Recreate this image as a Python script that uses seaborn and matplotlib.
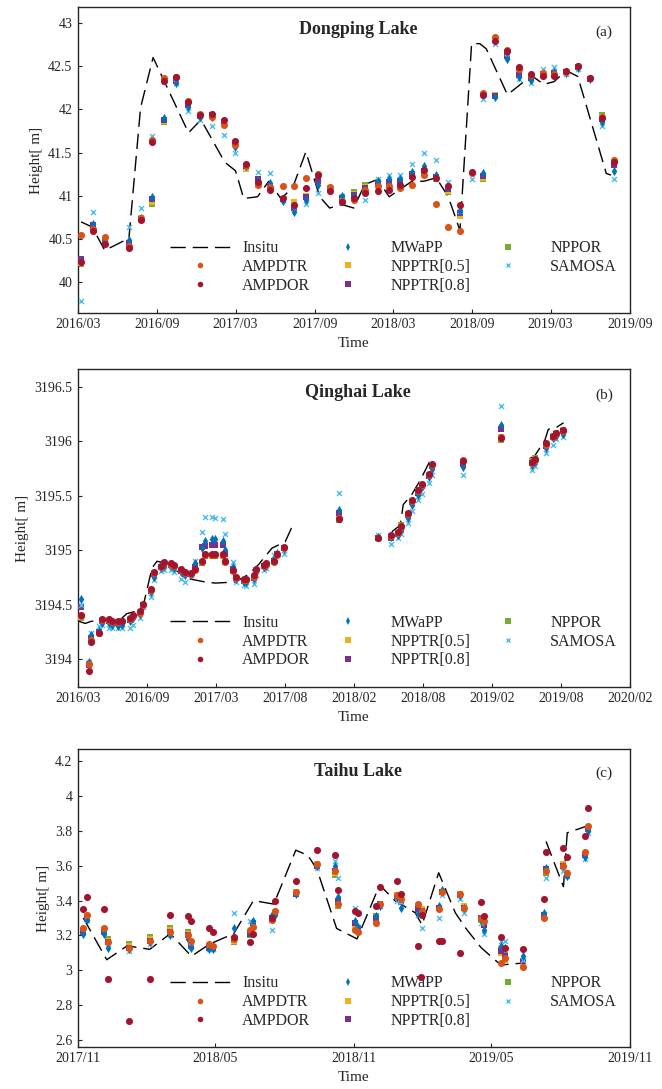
import numpy as np
import pandas as pd
import matplotlib
matplotlib.use('Agg')
import matplotlib.pyplot as plt
import matplotlib.dates as mdates
from matplotlib.lines import Line2D
import seaborn as sns

nan = np.nan

# ---------------- Dongping Lake (a) ----------------
dp_dates = ['2016-03-08', '2016-04-05', '2016-05-02', '2016-06-27', '2016-07-24', '2016-08-20',
            '2016-09-16', '2016-10-15', '2016-11-11', '2016-12-08', '2017-01-06', '2017-02-02',
            '2017-02-28', '2017-03-26', '2017-04-23', '2017-05-20', '2017-06-18', '2017-07-14',
            '2017-08-11', '2017-09-09', '2017-10-06', '2017-11-02', '2017-11-30', '2017-12-27',
            '2018-01-24', '2018-02-20', '2018-03-17', '2018-04-14', '2018-05-12', '2018-06-09',
            '2018-07-07', '2018-08-03', '2018-08-30', '2018-09-26', '2018-10-23', '2018-11-20',
            '2018-12-17', '2019-01-14', '2019-02-11', '2019-03-09', '2019-04-06', '2019-05-04',
            '2019-05-31', '2019-06-28', '2019-07-25']
dp_ampdtr = [40.55, 40.62, 40.53, 40.42, 40.75, 41.65, 42.36, 42.38, 42.10, 41.95, 41.91, 41.82,
             41.59, 41.36, 41.13, 41.10, 41.12, 41.12, 41.21, 41.25, 41.10, 40.94, 40.95, 41.07,
             41.12, 41.12, 41.09, 41.13, 41.24, 40.91, 40.64, 40.59, 41.27, 42.19, 42.84, 42.69,
             42.47, 42.40, 42.42, 42.41, 42.43, 42.50, 42.36, 41.91, 41.41]
dp_ampdor = [40.24, 40.59, 40.44, 40.40, 40.72, 41.62, 42.33, 42.37, 42.08, 41.94, 41.95, 41.88,
             41.64, 41.37, 41.16, 41.07, 40.97, 40.90, 41.09, 41.24, 41.06, 40.93, 40.97, 41.03,
             41.06, 41.07, 41.13, 41.22, 41.30, 41.21, 41.12, 40.90, 41.28, 42.17, 42.79, 42.67,
             42.49, 42.41, 42.39, 42.39, 42.44, 42.50, 42.36, 41.90, 41.39]
dp_mwapp = [40.25, 40.68, 40.48, 40.49, 40.75, 40.99, 41.90, 42.31, 42.03, 41.91, 41.91, 41.84,
            41.56, 41.34, 41.18, 41.15, 40.94, 40.81, 40.95, 41.13, 41.08, 41.00, 41.00, 41.08,
            41.17, 41.19, 41.19, 41.28, 41.35, 41.24, 41.10, 40.82, nan, 41.26, 42.14, 42.58,
            42.37, 42.34, 42.41, 42.43, 42.42, 42.48, 42.35, 41.86, 41.29]
dp_npptr05 = [40.23, 40.63, 40.46, 40.43, 40.74, 40.93, 41.87, 42.35, 42.06, 41.93, 41.92, 41.84,
              41.60, 41.31, 41.13, 41.11, 40.96, 40.93, 41.00, 41.19, 41.09, 40.95, 41.02, 41.10,
              41.14, 41.14, 41.16, 41.24, 41.28, 41.21, 41.06, 40.77, nan, 41.21, 42.17, 42.64,
              42.45, 42.37, 42.41, 42.41, 42.43, 42.49, 42.35, 41.91, 41.37]
dp_npptr08 = [40.27, 40.66, 40.47, 40.45, 40.73, 40.96, 41.88, 42.33, 42.05, 41.92, 41.93, 41.85,
              41.61, 41.35, 41.20, 41.12, 40.96, 40.86, 40.99, 41.17, 41.08, 40.97, 41.01, 41.09,
              41.15, 41.16, 41.17, 41.25, 41.29, 41.22, 41.08, 40.80, nan, 41.23, 42.16, 42.62,
              42.40, 42.36, 42.41, 42.42, 42.43, 42.49, 42.35, 41.89, 41.36]
dp_nppor = [40.21, 40.64, 40.46, 40.44, 40.74, 40.91, 41.86, 42.34, 42.05, 41.93, 41.92, 41.84,
            41.60, 41.34, 41.17, 41.11, 40.96, 40.88, 41.00, 41.18, 41.08, 40.96, 41.04, 41.13,
            41.16, 41.15, 41.16, 41.23, 41.27, 41.20, 41.04, 40.78, nan, 41.20, 42.17, 42.63,
            42.45, 42.38, 42.40, 42.41, 42.43, 42.49, 42.35, 41.93, 41.38]
dp_samosa = [39.79, 40.81, 40.50, 40.64, 40.86, 41.69, 42.32, 42.30, 41.98, 41.88, 41.81, 41.70,
             41.50, nan, 41.28, 41.26, 40.95, 40.85, 40.91, 41.03, nan, 41.00, 40.98, 40.95,
             41.19, 41.24, 41.24, 41.37, 41.50, 41.41, 41.16, 40.83, 41.19, 42.12, 42.76, 42.60,
             42.35, 42.30, 42.47, 42.49, 42.41, 42.47, nan, 41.81, 41.19]
dp_insitu_dates = ['2016-03-08', '2016-04-03', '2016-05-02', '2016-06-27', '2016-07-24', '2016-08-22',
                   '2016-11-12', '2016-12-11', '2017-02-04', '2017-03-01', '2017-03-20', '2017-04-21',
                   '2017-05-17', '2017-06-14', '2017-07-11', '2017-08-11', '2017-09-12', '2017-10-05',
                   '2017-11-02', '2017-11-30', '2017-12-25', '2018-01-24', '2018-02-20', '2018-04-14',
                   '2018-05-12', '2018-06-09', '2018-07-07', '2018-08-03', '2018-08-30', '2018-09-18',
                   '2018-10-03', '2018-11-21', '2019-01-16', '2019-02-13', '2019-03-09', '2019-04-06',
                   '2019-05-03', '2019-07-08', '2019-07-19']
dp_insitu = [40.70, 40.64, 40.37, 40.51, 42.02, 42.60, 41.73, 41.88, 41.39, 41.29, 40.97, 40.99,
             41.17, 40.97, 41.09, 41.51, 40.99, 40.86, 40.90, 40.86, 41.13, 41.19, 40.99, 41.17,
             41.17, 41.21, 40.99, 40.60, 42.76, 42.76, 42.70, 42.17, 42.39, 42.29, 42.32, 42.45,
             42.38, 41.26, 41.24]

# ---------------- Qinghai Lake (b) ----------------
qh_dates = ['2016-03-10', '2016-03-29', '2016-04-05', '2016-04-26', '2016-05-03', '2016-05-20',
            '2016-05-29', '2016-06-15', '2016-06-24', '2016-07-16', '2016-07-23', '2016-08-11',
            '2016-08-18', '2016-09-07', '2016-09-15', '2016-10-05', '2016-10-12', '2016-10-31',
            '2016-11-07', '2016-11-27', '2016-12-06', '2016-12-23', '2017-01-01', '2017-01-20',
            '2017-01-28', '2017-02-15', '2017-02-24', '2017-03-15', '2017-03-22', '2017-04-11',
            '2017-04-20', '2017-05-09', '2017-05-15', '2017-06-04', '2017-06-11', '2017-06-30',
            '2017-07-07', '2017-07-27', '2017-08-04', '2017-08-23', '2018-01-13', '2018-04-25',
            '2018-05-29', '2018-06-18', '2018-06-25', '2018-07-14', '2018-07-23', '2018-08-09',
            '2018-08-18', '2018-09-06', '2018-09-14', '2018-12-04', '2019-03-13', '2019-06-02',
            '2019-06-11', '2019-07-09', '2019-07-27', '2019-08-05', '2019-08-23']
qh_ampdtr = [3194.40, 3193.96, 3194.18, 3194.24, 3194.36, 3194.36, 3194.34, 3194.34, 3194.35, 3194.37,
             3194.40, 3194.43, 3194.50, 3194.64, 3194.79, 3194.85, 3194.88, 3194.87, 3194.86, 3194.82,
             3194.79, 3194.78, 3194.82, 3194.89, 3194.96, 3194.96, 3194.96, 3194.96, 3194.89, 3194.81,
             3194.75, 3194.73, 3194.73, 3194.76, 3194.82, 3194.86, 3194.87, 3194.89, 3194.96, 3195.02,
             3195.30, 3195.11, 3195.13, 3195.16, 3195.21, 3195.33, 3195.45, 3195.54, 3195.60, 3195.69,
             3195.78, 3195.83, 3196.04, 3195.80, 3195.83, 3195.97, 3196.04, 3196.07, 3196.09]
qh_ampdor = [3194.41, 3193.89, 3194.16, 3194.24, 3194.37, 3194.37, 3194.35, 3194.35, 3194.35, 3194.38,
             3194.41, 3194.44, 3194.51, 3194.65, 3194.80, 3194.86, 3194.89, 3194.88, 3194.87, 3194.83,
             3194.80, 3194.79, 3194.83, 3194.90, 3194.97, 3194.97, 3194.97, 3194.97, 3194.90, 3194.82,
             3194.76, 3194.74, 3194.74, 3194.77, 3194.83, 3194.87, 3194.88, 3194.90, 3194.97, 3195.03,
             3195.29, 3195.11, 3195.14, 3195.17, 3195.22, 3195.34, 3195.46, 3195.55, 3195.61, 3195.70,
             3195.79, 3195.82, 3196.03, 3195.81, 3195.84, 3195.98, 3196.05, 3196.08, 3196.10]
qh_mwapp = [3194.55, 3193.98, 3194.22, 3194.26, 3194.33, 3194.33, 3194.32, 3194.31, 3194.32, 3194.35,
            3194.38, 3194.42, 3194.49, 3194.62, 3194.76, 3194.84, 3194.86, 3194.86, 3194.84, 3194.80,
            3194.77, 3194.77, 3194.88, 3195.02, 3195.09, 3195.10, 3195.10, 3195.09, 3195.00, 3194.85,
            3194.74, 3194.71, 3194.71, 3194.74, 3194.80, 3194.85, 3194.86, 3194.92, 3194.98, 3195.01,
            3195.37, 3195.12, 3195.12, 3195.14, 3195.19, 3195.30, 3195.42, 3195.51, 3195.58, 3195.67,
            3195.75, 3195.76, 3196.15, 3195.78, 3195.81, 3195.94, 3196.03, 3196.05, 3196.07]
qh_npptr05 = [3194.39, 3193.95, 3194.19, 3194.25, 3194.36, 3194.36, 3194.34, 3194.34, 3194.34, 3194.37,
              3194.40, 3194.43, 3194.50, 3194.64, 3194.79, 3194.85, 3194.88, 3194.87, 3194.86, 3194.82,
              3194.79, 3194.78, 3194.83, 3194.89, 3194.96, 3194.96, 3194.96, 3194.96, 3194.90, 3194.82,
              3194.75, 3194.73, 3194.73, 3194.76, 3194.82, 3194.86, 3194.87, 3194.89, 3194.96, 3195.02,
              3195.30, 3195.11, 3195.13, 3195.16, 3195.22, 3195.33, 3195.45, 3195.54, 3195.60, 3195.69,
              3195.78, 3195.82, 3196.04, 3195.81, 3195.84, 3195.97, 3196.05, 3196.08, 3196.10]
qh_npptr08 = [3194.48, 3193.95, 3194.20, 3194.25, 3194.35, 3194.35, 3194.33, 3194.33, 3194.34, 3194.36,
              3194.39, 3194.43, 3194.50, 3194.63, 3194.78, 3194.85, 3194.87, 3194.87, 3194.85, 3194.81,
              3194.78, 3194.78, 3194.85, 3195.03, 3195.04, 3195.05, 3195.05, 3195.05, 3194.97, 3194.83,
              3194.75, 3194.72, 3194.72, 3194.75, 3194.81, 3194.86, 3194.87, 3194.90, 3194.97, 3195.02,
              3195.34, 3195.11, 3195.11, 3195.15, 3195.20, 3195.32, 3195.44, 3195.53, 3195.59, 3195.68,
              3195.77, 3195.79, 3196.11, 3195.80, 3195.83, 3195.96, 3196.04, 3196.07, 3196.09]
qh_nppor = [3194.38, 3193.96, 3194.19, 3194.25, 3194.36, 3194.36, 3194.34, 3194.34, 3194.34, 3194.37,
            3194.40, 3194.43, 3194.50, 3194.64, 3194.79, 3194.85, 3194.88, 3194.87, 3194.86, 3194.82,
            3194.79, 3194.78, 3194.82, 3194.88, 3194.95, 3194.95, 3194.95, 3194.95, 3194.89, 3194.81,
            3194.75, 3194.73, 3194.73, 3194.76, 3194.82, 3194.86, 3194.87, 3194.89, 3194.96, 3195.02,
            3195.28, 3195.11, 3195.13, 3195.16, 3195.23, 3195.33, 3195.45, 3195.54, 3195.60, 3195.69,
            3195.78, 3195.81, 3196.01, 3195.82, 3195.85, 3195.97, 3196.05, 3196.08, 3196.10]
qh_samosa = [3194.50, 3193.98, 3194.24, 3194.31, 3194.32, 3194.29, 3194.29, 3194.29, 3194.29, 3194.29,
             3194.32, 3194.38, 3194.48, 3194.57, 3194.73, 3194.81, 3194.82, 3194.82, 3194.80, 3194.74,
             3194.71, 3194.77, 3194.90, 3195.17, 3195.31, 3195.31, 3195.30, 3195.29, 3195.15, 3194.89,
             3194.71, 3194.68, 3194.67, 3194.69, 3194.77, 3194.82, 3194.84, 3194.96, 3194.97, 3194.97,
             3195.53, 3195.14, 3195.06, 3195.11, 3195.15, 3195.25, 3195.36, 3195.46, 3195.52, 3195.62,
             3195.69, 3195.69, 3196.32, 3195.74, 3195.77, 3195.89, 3195.97, 3196.02, 3196.04]
qh_insitu_dates = ['2016-03-03', '2016-03-20', '2016-04-05', '2016-06-15', '2016-07-07', '2016-07-29',
                   '2016-08-18', '2016-09-11', '2016-09-24', '2016-10-20', '2016-11-02', '2016-11-28',
                   '2016-12-16', '2017-01-28', '2017-02-24', '2017-04-17', '2017-05-22', '2017-06-17',
                   '2017-07-22', '2017-08-26', '2017-09-17', '2018-01-01', '2018-06-01', '2018-06-23',
                   '2018-07-01', '2018-07-23', '2018-08-14', '2018-09-09', '2018-09-22', '2019-01-01',
                   '2019-05-28', '2019-06-11', '2019-07-07', '2019-07-16', '2019-08-03', '2019-08-25']
qh_insitu = [3194.35, 3194.33, 3194.35, 3194.35, 3194.42, 3194.44, 3194.48, 3194.84, 3194.90, 3194.88,
             3194.84, 3194.78, 3194.74, 3194.71, 3194.70, 3194.71, 3194.78, 3194.87, 3195.02, 3195.08,
             3195.25, nan, 3195.17, 3195.23, 3195.42, 3195.51, 3195.64, 3195.82, 3195.84, nan,
             3195.84, 3195.87, 3196.01, 3196.11, 3196.12, 3196.17]

# ---------------- Taihu Lake (c) ----------------
th_dates = ['2017-11-08', '2017-11-13', '2017-12-06', '2017-12-11', '2018-01-07', '2018-02-04',
            '2018-03-03', '2018-03-26', '2018-03-31', '2018-04-23', '2018-04-28', '2018-05-26',
            '2018-06-17', '2018-06-21', '2018-07-15', '2018-07-19', '2018-08-16', '2018-09-13',
            '2018-10-07', '2018-10-11', '2018-11-02', '2018-11-06', '2018-11-30', '2018-12-05',
            '2018-12-28', '2019-01-02', '2019-01-25', '2019-01-28', '2019-01-30', '2019-02-22',
            '2019-02-26', '2019-03-21', '2019-03-26', '2019-04-18', '2019-04-22', '2019-05-15',
            '2019-05-20', '2019-06-12', '2019-07-10', '2019-07-13', '2019-08-05', '2019-08-10',
            '2019-09-02', '2019-09-06']
th_ampdtr = [3.24, 3.32, 3.24, 3.16, 3.13, 3.17, 3.22, 3.20, 3.17, 3.15, 3.14, 3.18,
             3.23, 3.25, 3.29, 3.34, 3.45, 3.61, 3.57, 3.38, 3.23, 3.22, 3.27, 3.38,
             3.43, 3.41, 3.38, nan, 3.34, 3.35, 3.45, 3.44, 3.36, 3.30, 3.28, 3.04,
             3.07, 3.02, 3.30, 3.57, 3.60, 3.56, 3.68, 3.83]
th_ampdor = [3.35, 3.42, 3.35, 2.95, 2.71, 2.95, 3.32, 3.31, 3.28, 3.24, 3.22, 3.19,
             3.16, 3.21, 3.30, 3.40, 3.51, 3.69, 3.66, 3.46, 3.34, 3.33, 3.37, 3.48,
             3.51, 3.44, 3.14, 2.96, 3.32, 3.17, 3.17, 3.10, nan, 3.39, 3.31, 3.19,
             3.13, 3.12, 3.41, 3.68, 3.70, 3.65, 3.77, 3.93]
th_mwapp = [3.21, 3.29, 3.21, 3.13, 3.12, 3.16, 3.20, 3.18, 3.13, 3.12, 3.12, 3.24,
            3.22, 3.28, 3.32, 3.32, 3.44, 3.60, 3.60, 3.42, 3.28, 3.25, 3.31, 3.37,
            3.42, 3.36, 3.33, nan, 3.33, 3.37, 3.46, 3.43, 3.36, 3.29, 3.23, 3.14,
            3.13, 3.08, 3.33, 3.59, 3.60, 3.54, 3.65, 3.80]
th_npptr05 = [3.23, 3.31, 3.23, 3.17, 3.14, 3.18, 3.23, 3.21, 3.16, 3.14, 3.13, 3.17,
              3.21, 3.26, 3.30, 3.33, 3.45, 3.61, 3.56, 3.38, 3.24, 3.23, 3.28, 3.38,
              3.43, 3.40, 3.37, nan, 3.35, 3.36, 3.45, 3.44, 3.37, 3.30, 3.27, 3.10,
              3.06, 3.04, 3.31, 3.58, 3.61, 3.56, 3.67, 3.82]
th_npptr08 = [3.22, 3.30, 3.22, 3.16, 3.13, 3.17, 3.22, 3.20, 3.14, 3.13, 3.13, 3.18,
              3.21, 3.27, 3.30, 3.33, 3.44, 3.60, 3.57, 3.40, 3.27, 3.24, 3.30, 3.38,
              3.42, 3.39, 3.35, nan, 3.34, 3.36, 3.45, 3.43, 3.36, 3.30, 3.26, 3.11,
              3.08, 3.05, 3.32, 3.58, 3.60, 3.55, 3.66, 3.81]
th_nppor = [3.22, 3.31, 3.23, 3.18, 3.15, 3.19, 3.24, 3.22, 3.16, 3.14, 3.13, 3.16,
            3.20, 3.25, 3.29, 3.33, 3.44, 3.60, 3.55, 3.37, 3.25, 3.23, 3.31, 3.38,
            3.42, 3.40, 3.36, nan, 3.33, 3.36, 3.45, 3.44, 3.36, 3.29, 3.27, 3.12,
            3.09, 3.04, 3.31, 3.56, 3.60, 3.55, 3.66, 3.82]
th_samosa = [3.22, 3.29, 3.22, 3.15, 3.11, 3.15, 3.20, 3.19, 3.14, 3.12, 3.12, 3.33,
             3.28, 3.27, 3.23, 3.33, 3.45, 3.59, 3.63, 3.53, 3.36, 3.24, 3.37, 3.37,
             3.40, 3.39, 3.32, nan, 3.24, 3.30, 3.43, 3.41, 3.33, 3.27, 3.21, 3.17,
             3.17, 3.06, 3.32, 3.53, 3.57, 3.54, 3.64, 3.79]
th_insitu_dates = ['2017-11-08', '2017-12-09', '2018-01-05', '2018-02-04', '2018-03-03', '2018-03-31',
                   '2018-04-24', '2018-05-26', '2018-06-21', '2018-07-18', '2018-08-16', '2018-09-01',
                   '2018-09-13', '2018-10-09', '2018-11-05', '2018-12-05', '2018-12-25', '2019-01-21',
                   '2019-01-30', '2019-02-21', '2019-03-15', '2019-03-29', '2019-04-18', '2019-05-14',
                   '2019-06-10', '2019-06-25', '2019-07-13', '2019-08-05', '2019-08-10', '2019-09-06']
th_insitu = [3.30, 3.06, 3.14, 3.12, 3.21, 3.08, 3.15, 3.21, 3.40, 3.38, 3.69, 3.66,
             3.58, 3.24, 3.18, 3.49, 3.40, 3.33, 3.26, 3.56, 3.33, 3.24, 3.13, 3.03,
             3.04, nan, 3.74, 3.48, 3.79, 3.83]

# ---------------- styling ----------------
sns.set_theme(style='white')
plt.rcParams['font.family'] = ['Liberation Serif', 'DejaVu Serif']

method_names = ['AMPDTR', 'AMPDOR', 'MWaPP', 'NPPTR[0.5]', 'NPPTR[0.8]', 'NPPOR', 'SAMOSA']
colors = {'AMPDTR': '#D95319', 'AMPDOR': '#A2142F', 'MWaPP': '#0072BD', 'NPPTR[0.5]': '#EDB120',
          'NPPTR[0.8]': '#7E2F8E', 'NPPOR': '#77AC30', 'SAMOSA': '#4DBEEE'}
markers = {'AMPDTR': 'o', 'AMPDOR': 'o', 'MWaPP': 'd', 'NPPTR[0.5]': 's', 'NPPTR[0.8]': 's',
           'NPPOR': 's', 'SAMOSA': 'x'}
msize = {'AMPDTR': 26, 'AMPDOR': 26, 'MWaPP': 22, 'NPPTR[0.5]': 13, 'NPPTR[0.8]': 13,
         'NPPOR': 13, 'SAMOSA': 13}
draw_order = ['NPPOR', 'NPPTR[0.5]', 'NPPTR[0.8]', 'SAMOSA', 'MWaPP', 'AMPDTR', 'AMPDOR']
insitu_dash = (0, (11, 5))


def draw_panel(ax, dates, series, ins_dates, ins_vals, title, tag, xlim, xticks, xlabels, ylim, yticks, legend_y):
    x = pd.to_datetime(dates)
    ax.plot(pd.to_datetime(ins_dates), ins_vals, color='black', lw=1.0, linestyle=insitu_dash, zorder=1)
    for z, name in enumerate(draw_order):
        kw = dict(color=colors[name], marker=markers[name], s=msize[name], ax=ax, zorder=2 + z)
        kw['linewidth'] = 1.0 if markers[name] == 'x' else 0
        sns.scatterplot(x=x, y=series[name], **kw)
    ax.set_xlim(pd.to_datetime(xlim[0]), pd.to_datetime(xlim[1]))
    ax.set_xticks(xticks)
    ax.set_xticklabels(xlabels)
    ax.set_ylim(*ylim)
    ax.set_yticks(yticks)
    ax.set_yticklabels([f'{v:g}' for v in yticks])
    ax.set_xlabel('Time', fontsize=11)
    ax.set_ylabel('Height[ m]', fontsize=11)
    ax.tick_params(direction='in', length=3, width=0.8, labelsize=10, pad=4,
                   bottom=True, left=True, top=False, right=False, colors='#262626')
    for sp in ax.spines.values():
        sp.set_visible(True)
        sp.set_color('#262626')
        sp.set_linewidth(1.0)
    ax.text(0.507, 0.926, title, transform=ax.transAxes, ha='center', va='center',
            fontsize=13, fontweight='bold')
    ax.text(0.953, 0.918, tag, transform=ax.transAxes, ha='center', va='center', fontsize=11)

    handles = [Line2D([], [], color='black', lw=1.0, linestyle=insitu_dash, label='Insitu')]
    for name in method_names:
        handles.append(Line2D([], [], ls='none', marker=markers[name], color=colors[name],
                              markersize=4 if markers[name] != 'x' else 3.5,
                              markeredgewidth=0 if markers[name] != 'x' else 1.0, label=name))
    ax.legend(handles=handles, ncol=3, loc='lower left', bbox_to_anchor=(0.166, legend_y),
              frameon=False, fontsize=11.5, handlelength=3.8, handletextpad=0.75,
              columnspacing=0.45, labelspacing=0.17, borderpad=0, borderaxespad=0)


fig = plt.figure(figsize=(6.62, 10.89), dpi=100)
L, W = 78 / 662, 552 / 662
ax_a = fig.add_axes([L, 1 - 312.7 / 1089, W, 305.4 / 1089])
ax_b = fig.add_axes([L, 1 - 686.7 / 1089, W, 317.4 / 1089])
ax_c = fig.add_axes([L, 1 - 1046.7 / 1089, W, 297.4 / 1089])

# (a)
a_tick_dates = ['2016-03-01', '2016-09-01', '2017-03-01', '2017-09-01', '2018-03-01',
                '2018-09-01', '2019-03-01', '2019-09-01']
a_tick_labels = ['2016/03', '2016/09', '2017/03', '2017/09', '2018/03', '2018/09', '2019/03', '2019/09']
draw_panel(ax_a, dp_dates,
           {'AMPDTR': dp_ampdtr, 'AMPDOR': dp_ampdor, 'MWaPP': dp_mwapp, 'NPPTR[0.5]': dp_npptr05,
            'NPPTR[0.8]': dp_npptr08, 'NPPOR': dp_nppor, 'SAMOSA': dp_samosa},
           dp_insitu_dates, dp_insitu, 'Dongping Lake', '(a)',
           ('2016-03-01', '2019-09-01'), pd.to_datetime(a_tick_dates), a_tick_labels,
           (39.65, 43.18), [40, 40.5, 41, 41.5, 42, 42.5, 43], 0.062)

# (b) ticks evenly spaced across the axis
b_tick_labels = ['2016/03', '2016/09', '2017/03', '2017/08', '2018/02', '2018/08', '2019/02',
                 '2019/08', '2020/02']
b_lo, b_hi = mdates.date2num(pd.Timestamp('2016-03-01')), mdates.date2num(pd.Timestamp('2020-02-15'))
draw_panel(ax_b, qh_dates,
           {'AMPDTR': qh_ampdtr, 'AMPDOR': qh_ampdor, 'MWaPP': qh_mwapp, 'NPPTR[0.5]': qh_npptr05,
            'NPPTR[0.8]': qh_npptr08, 'NPPOR': qh_nppor, 'SAMOSA': qh_samosa},
           qh_insitu_dates, qh_insitu, 'Qinghai Lake', '(b)',
           ('2016-03-01', '2020-02-15'), np.linspace(b_lo, b_hi, 9), b_tick_labels,
           (3193.75, 3196.66), [3194, 3194.5, 3195, 3195.5, 3196, 3196.5], 0.058)

# (c)
c_tick_dates = ['2017-11-01', '2018-05-01', '2018-11-01', '2019-05-01', '2019-11-01']
c_tick_labels = ['2017/11', '2018/05', '2018/11', '2019/05', '2019/11']
draw_panel(ax_c, th_dates,
           {'AMPDTR': th_ampdtr, 'AMPDOR': th_ampdor, 'MWaPP': th_mwapp, 'NPPTR[0.5]': th_npptr05,
            'NPPTR[0.8]': th_npptr08, 'NPPOR': th_nppor, 'SAMOSA': th_samosa},
           th_insitu_dates, th_insitu, 'Taihu Lake', '(c)',
           ('2017-11-01', '2019-11-01'), pd.to_datetime(c_tick_dates), c_tick_labels,
           (2.56, 4.27), [2.6, 2.8, 3, 3.2, 3.4, 3.6, 3.8, 4, 4.2], 0.060)

fig.savefig('out.png', dpi=100)
